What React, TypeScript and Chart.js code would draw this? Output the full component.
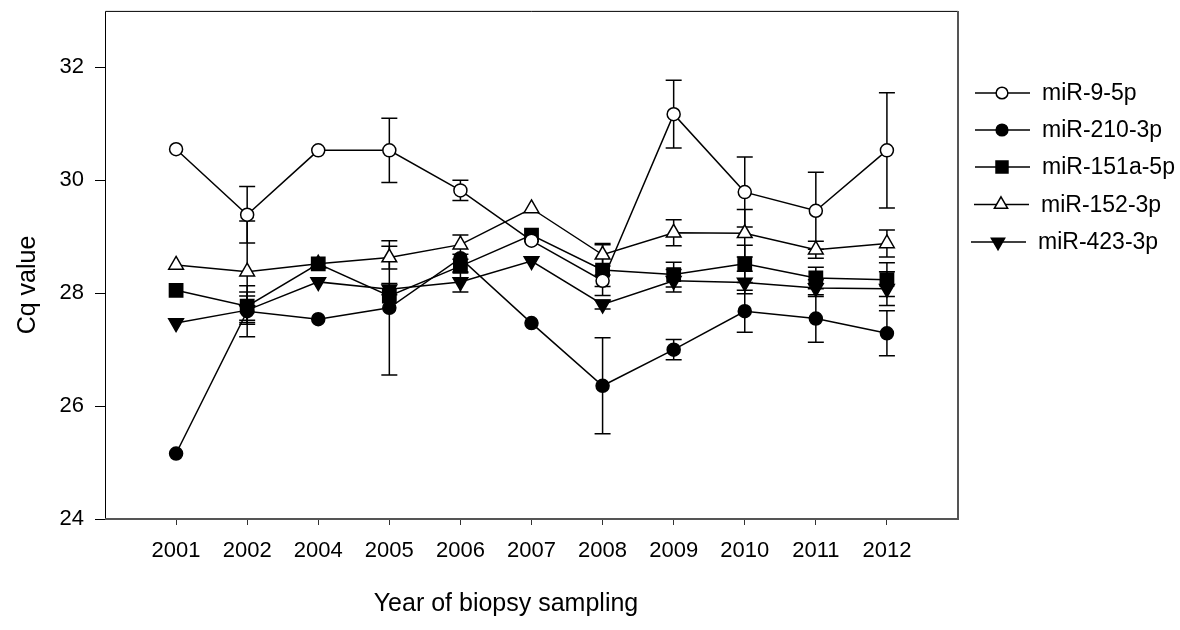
import React, { useEffect, useRef } from "react";
import { Chart, registerables } from "chart.js";

Chart.register(...registerables);

const years = ["2001", "2002", "2004", "2005", "2006", "2007", "2008", "2009", "2010", "2011", "2012"];
const yTicks = [24, 26, 28, 30, 32];

const mir9 = [30.55, 29.39, 30.53, 30.53, 29.82, 28.93, 28.22, 31.17, 29.79, 29.46, 30.53];
const mir9Err = [0, 0.5, 0, 0.57, 0.18, 0, 0.1, 0.6, 0.62, 0.68, 1.02];
const mir210 = [25.16, 27.68, 27.54, 27.74, 28.62, 27.47, 26.36, 27.0, 27.68, 27.55, 27.29];
const mir210Err = [0, 0.45, 0, 1.19, 0, 0, 0.85, 0.18, 0.37, 0.42, 0.4];
const mir151 = [28.05, 27.77, 28.52, 27.95, 28.48, 29.03, 28.41, 28.33, 28.52, 28.27, 28.24];
const mir151Err = [0, 0.25, 0, 0, 0.12, 0, 0.45, 0.22, 0.33, 0.19, 0.3];
const mir152 = [28.5, 28.38, 28.52, 28.63, 28.86, 29.5, 28.68, 29.07, 29.06, 28.77, 28.88];
const mir152Err = [0, 0.9, 0, 0.2, 0.17, 0, 0.2, 0.23, 0.42, 0.15, 0.24];
const mir423 = [27.47, 27.7, 28.2, 28.07, 28.2, 28.57, 27.8, 28.22, 28.19, 28.09, 28.08];
const mir423Err = [0, 0.25, 0, 0.1, 0.18, 0, 0.08, 0.2, 0.2, 0.15, 0.3];

const FONT = '"Liberation Sans", Arial, Helvetica, sans-serif';

type Series = {
  label: string;
  data: number[];
  err: number[];
  style: "circle" | "rect" | "triangle";
  fill: string;
  rotation: number;
  radius: number;
};

const series: Series[] = [
  { label: "miR-9-5p", data: mir9, err: mir9Err, style: "circle", fill: "#ffffff", rotation: 0, radius: 6.5 },
  { label: "miR-210-3p", data: mir210, err: mir210Err, style: "circle", fill: "#000000", rotation: 0, radius: 6.5 },
  { label: "miR-151a-5p", data: mir151, err: mir151Err, style: "rect", fill: "#000000", rotation: 0, radius: 9.4 },
  { label: "miR-152-3p", data: mir152, err: mir152Err, style: "triangle", fill: "#ffffff", rotation: 0, radius: 8.5 },
  { label: "miR-423-3p", data: mir423, err: mir423Err, style: "triangle", fill: "#000000", rotation: 180, radius: 8.5 },
];

function drawMarker(ctx: CanvasRenderingContext2D, s: Series, x: number, y: number, scale: number) {
  ctx.save();
  ctx.beginPath();
  const r = s.radius * scale;
  if (s.style === "circle") {
    ctx.arc(x, y, r, 0, Math.PI * 2);
  } else if (s.style === "rect") {
    const h = r * Math.SQRT1_2;
    ctx.rect(x - h, y - h, 2 * h, 2 * h);
  } else {
    let rad = (s.rotation * Math.PI) / 180;
    ctx.moveTo(x + Math.sin(rad) * r, y - Math.cos(rad) * r);
    rad += (2 * Math.PI) / 3;
    ctx.lineTo(x + Math.sin(rad) * r, y - Math.cos(rad) * r);
    rad += (2 * Math.PI) / 3;
    ctx.lineTo(x + Math.sin(rad) * r, y - Math.cos(rad) * r);
    ctx.closePath();
  }
  ctx.fillStyle = s.fill;
  ctx.fill();
  ctx.lineWidth = 1.5;
  ctx.strokeStyle = "#000";
  ctx.stroke();
  ctx.restore();
}

const errorBarPlugin = {
  id: "errorBars",
  beforeDatasetsDraw(chart: any) {
    const ctx = chart.ctx as CanvasRenderingContext2D;
    const yScale = chart.scales.y;
    ctx.save();
    ctx.strokeStyle = "#000";
    ctx.lineWidth = 1.5;
    series.forEach((s, di) => {
      const meta = chart.getDatasetMeta(di);
      s.data.forEach((v, i) => {
        const e = s.err[i];
        if (!e) return;
        const x = meta.data[i].x;
        const yt = yScale.getPixelForValue(v + e);
        const yb = yScale.getPixelForValue(v - e);
        ctx.beginPath();
        ctx.moveTo(x, yt);
        ctx.lineTo(x, yb);
        ctx.moveTo(x - 8, yt);
        ctx.lineTo(x + 8, yt);
        ctx.moveTo(x - 8, yb);
        ctx.lineTo(x + 8, yb);
        ctx.stroke();
      });
    });
    ctx.restore();
  },
};

const decorPlugin = {
  id: "decor",
  afterDraw(chart: any) {
    const ctx = chart.ctx as CanvasRenderingContext2D;
    const { left, right, top, bottom } = chart.chartArea;
    ctx.save();
    // frame
    ctx.lineWidth = 1;
    ctx.strokeStyle = "#000";
    ctx.beginPath();
    ctx.moveTo(left + 0.5, bottom);
    ctx.lineTo(left + 0.5, top + 0.5);
    ctx.lineTo(right, top + 0.5);
    ctx.stroke();
    ctx.lineWidth = 2;
    ctx.strokeStyle = "#555";
    ctx.beginPath();
    ctx.moveTo(left, bottom);
    ctx.lineTo(right, bottom);
    ctx.lineTo(right, top);
    ctx.stroke();

    // axis titles
    ctx.fillStyle = "#000";
    ctx.font = `25px ${FONT}`;
    ctx.textAlign = "center";
    ctx.textBaseline = "middle";
    ctx.fillText("Year of biopsy sampling", 506, 604);
    ctx.save();
    ctx.translate(28, 285);
    ctx.rotate(-Math.PI / 2);
    ctx.fillText("Cq value", 0, 0);
    ctx.restore();

    // legend
    const rows = [93, 130, 167, 204.5, 242];
    const shifts = [0, 0, 0, -1, -4];
    ctx.font = `23px ${FONT}`;
    ctx.textAlign = "left";
    series.forEach((s, i) => {
      const y = rows[i];
      const dx = shifts[i];
      ctx.lineWidth = 1.5;
      ctx.strokeStyle = "#000";
      ctx.beginPath();
      ctx.moveTo(975 + dx, y);
      ctx.lineTo(1030 + dx, y);
      ctx.stroke();
      drawMarker(ctx, s, 1002 + dx, y, 0.9);
      ctx.fillStyle = "#000";
      ctx.fillText(s.label, 1042 + dx, y + 1);
    });
    ctx.restore();
  },
};

export default function App() {
  const ref = useRef<HTMLCanvasElement | null>(null);

  useEffect(() => {
    document.body.style.margin = "0";
    const canvas = ref.current;
    if (!canvas) return;
    const chart = new Chart(canvas, {
      type: "line",
      data: {
        datasets: series.map((s) => ({
          label: s.label,
          data: s.data.map((v, i) => ({ x: i, y: v })),
          borderColor: "#000",
          borderWidth: 1.5,
          pointStyle: s.style,
          pointRadius: s.radius,
          pointHoverRadius: s.radius,
          pointBackgroundColor: s.fill,
          pointBorderColor: "#000",
          pointBorderWidth: 1.5,
          pointRotation: s.rotation,
          fill: false,
          tension: 0,
        })),
      },
      options: {
        responsive: false,
        animation: false,
        events: [],
        layout: { padding: { top: 9, right: 222, left: 0, bottom: 0 } },
        plugins: { legend: { display: false }, tooltip: { enabled: false } },
        scales: {
          x: {
            type: "linear",
            min: -1,
            max: 11,
            afterBuildTicks: (scale: any) => {
              scale.ticks = years.map((_, i) => ({ value: i }));
            },
            afterFit: (scale: any) => {
              scale.height = 111;
              scale.paddingLeft = 0;
              scale.paddingRight = 0;
            },
            ticks: {
              callback: (v: any) => years[v] ?? "",
              font: { family: FONT, size: 22 },
              color: "#000",
              padding: 13,
              maxRotation: 0,
              autoSkip: false,
            },
            grid: { drawOnChartArea: false, drawTicks: true, tickLength: 6, color: "#333", lineWidth: 1 },
            border: { display: false },
          },
          y: {
            type: "linear",
            min: 24,
            max: 33,
            afterBuildTicks: (scale: any) => {
              scale.ticks = yTicks.map((v) => ({ value: v }));
            },
            afterFit: (scale: any) => {
              scale.width = 105;
              scale.paddingTop = 0;
              scale.paddingBottom = 0;
            },
            ticks: {
              font: { family: FONT, size: 22 },
              color: "#000",
              padding: 11,
            },
            grid: { drawOnChartArea: false, drawTicks: true, tickLength: 10, color: "#000", lineWidth: 1 },
            border: { display: false },
          },
        },
      },
      plugins: [errorBarPlugin, decorPlugin],
    } as any);
    return () => chart.destroy();
  }, []);

  return (
    <div style={{ position: "absolute", left: 0, top: 0, width: 1180, height: 630, background: "#fff" }}>
      <canvas ref={ref} width={1180} height={630} />
    </div>
  );
}
